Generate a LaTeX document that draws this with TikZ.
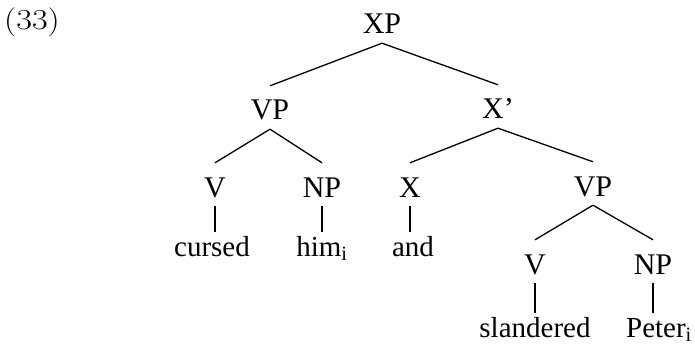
\documentclass[tikz,border=0pt]{standalone}
\usepackage{fontspec}
\newfontfamily\timesfont[Ligatures=TeX]{Liberation Serif}
\usetikzlibrary{positioning}

\tikzset{
	cat/.style={anchor=base, inner xsep=2pt, inner ysep=9pt, text height=25pt, text depth=0pt, font=\timesfont\fontsize{30}{34}\selectfont},
	word/.style={anchor=base, inner xsep=2pt, inner ysep=3pt, text height=21pt, text depth=0pt, font=\timesfont\fontsize{29}{34}\selectfont},
	branch/.style={line width=1.3pt}
}

\begin{document}
\begin{tikzpicture}[x=1pt, y=1pt]
			\useasboundingbox (0, 0) rectangle (695, -358);
			
			\node[anchor=base west, inner sep=0pt, font=\fontsize{29}{34}\selectfont] (num) at (4, -30) {\scalebox{1.18}[1]{(33)}};
			
			% Top (XP)
			\node[cat] (xp) at (382, -34) {XP};
			
			% Second level
			\node[cat] (vpa) at (270, -120) {VP};
			\node[cat] (xbar) at (498, -119) {X'};
			
			% Third level
			\node[cat] (va) at (215, -197) {V};
			\node[cat] (npa) at (322, -197) {NP};
			\node[cat] (xa) at (410, -197) {X};
			\node[cat] (vpb) at (593, -196) {VP};
			
			% Words under the left VP and X
			\node[word] (cursed) at (212, -256) {cursed};
			\node[word] (him) at (322, -256) {him\textsubscript{i}};
			\node[word] (and) at (413, -256) {and};
			
			% Lower VP
			\node[cat] (vb) at (535, -274) {V};
			\node[cat] (npb) at (653, -274) {NP};
			\node[word] (sland) at (535, -337) {slandered};
			\node[word] (peter) at (659, -337) {Peter\textsubscript{i}};
			
			\draw[branch] (xp.south) -- (vpa.north);
			\draw[branch] (xp.south) -- (xbar.north);
			
			\draw[branch] (vpa.south) -- (va.north);
			\draw[branch] (vpa.south) -- (npa.north);
			\draw[branch] (xbar.south) -- (xa.north);
			\draw[branch] (xbar.south) -- (vpb.north);
			
			\draw[branch] (va.south) -- (va.south |- cursed.north);
			\draw[branch] (npa.south) -- (npa.south |- him.north);
			\draw[branch] (xa.south) -- (xa.south |- and.north);
			
			\draw[branch] (vpb.south) -- (vb.north);
			\draw[branch] (vpb.south) -- (npb.north);
			\draw[branch] (vb.south) -- (vb.south |- sland.north);
			\draw[branch] (npb.south) -- (npb.south |- peter.north);
			
		\end{tikzpicture}
\end{document}
